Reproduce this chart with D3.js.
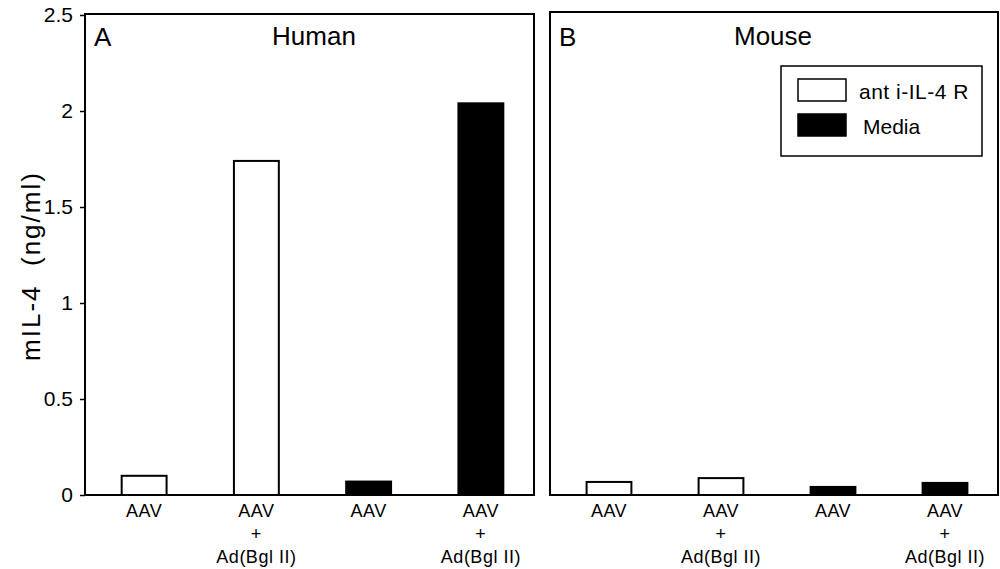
<!DOCTYPE html>
<html>
<head>
<meta charset="utf-8">
<script src="https://cdn.jsdelivr.net/npm/d3@7"></script>
<style>
  body { margin: 0; background: #fff; }
  svg { font-family: "Liberation Sans", Arial, sans-serif; }
</style>
</head>
<body>
<div id="chart"></div>
<script>
// Chart size
const width = 1000;
const height = 569;

// Data
const categories = ["AAV|anti", "AAV+Ad|anti", "AAV|media", "AAV+Ad|media"];
const catLines = [["AAV"], ["AAV", "+", "Ad(Bgl II)"], ["AAV"], ["AAV", "+", "Ad(Bgl II)"]];
const treatment = ["anti-IL-4R", "anti-IL-4R", "Media", "Media"];
const humanValues = [0.10, 1.74, 0.07, 2.04];
const mouseValues = [0.068, 0.088, 0.042, 0.063];
const yTicks = [0, 0.5, 1, 1.5, 2, 2.5];
const legendLabels = ["ant i-IL-4 R", "Media"];

const fillFor = {"anti-IL-4R": "#fff", "Media": "#000"};

// Panels
const panels = [
  {letter: "A", title: "Human", values: humanValues, x0: 85, x1: 534, top: 14, titleX: 314},
  {letter: "B", title: "Mouse", values: mouseValues, x0: 550, x1: 998, top: 12, titleX: 773}
];

const svg = d3.select("#chart")
  .append("svg")
  .attr("width", width)
  .attr("height", height);

// shared y scale
const yScale = d3.scaleLinear()
  .domain([0, 2.5])
  .range([495, 15]);

// y axis on the left panel
const yAxis = svg.append("g")
  .attr("transform", "translate(85,0)")
  .call(d3.axisLeft(yScale)
    .tickValues(yTicks)
    .tickFormat(d => d)
    .tickSize(5)
    .tickPadding(7));
yAxis.select(".domain").remove();
yAxis.selectAll(".tick line").attr("stroke", "#000").attr("stroke-width", 1.5);
yAxis.selectAll(".tick text")
  .attr("font-size", "21px")
  .attr("fill", "#000")
  .attr("font-family", "'Liberation Sans', Arial, sans-serif");

// y axis label
svg.append("text")
  .attr("transform", "translate(40,266) rotate(-90)")
  .attr("text-anchor", "middle")
  .attr("font-size", "26px")
  .attr("letter-spacing", "2px")
  .attr("fill", "#000")
  .style("white-space", "pre")
  .text("mIL-4  (ng/ml)");

panels.forEach(p => {
  const xScale = d3.scaleBand()
    .domain(categories)
    .range([p.x0 + 3, p.x1 + 3])
    .paddingInner(0.6)
    .paddingOuter(0.3);

  const g = svg.append("g");

  // frame
  g.append("rect")
    .attr("x", p.x0)
    .attr("y", p.top)
    .attr("width", p.x1 - p.x0)
    .attr("height", yScale(0) - p.top)
    .attr("fill", "none")
    .attr("stroke", "#000")
    .attr("stroke-width", 2);

  // bars
  g.selectAll(".bar")
    .data(p.values)
    .enter()
    .append("rect")
      .attr("class", "bar")
      .attr("x", (d, i) => xScale(categories[i]))
      .attr("y", d => yScale(d))
      .attr("width", xScale.bandwidth())
      .attr("height", d => yScale(0) - yScale(d))
      .attr("fill", (d, i) => fillFor[treatment[i]])
      .attr("stroke", "#000")
      .attr("stroke-width", 2);

  // category labels
  categories.forEach((c, i) => {
    const cx = xScale(c) + xScale.bandwidth() / 2;
    catLines[i].forEach((line, j) => {
      g.append("text")
        .attr("x", cx)
        .attr("y", 517 + j * 23)
        .attr("text-anchor", "middle")
        .attr("font-size", "18px")
        .attr("letter-spacing", "0.5px")
        .attr("fill", "#000")
        .text(line);
    });
  });

  // panel letter and title
  g.append("text")
    .attr("x", p.x0 + 9)
    .attr("y", 46)
    .attr("font-size", "26px")
    .attr("fill", "#000")
    .text(p.letter);
  g.append("text")
    .attr("x", p.titleX)
    .attr("y", 45)
    .attr("text-anchor", "middle")
    .attr("font-size", "26px")
    .attr("fill", "#000")
    .text(p.title);
});

// legend
const legend = svg.append("g");
legend.append("rect")
  .attr("x", 781).attr("y", 66)
  .attr("width", 201).attr("height", 90)
  .attr("fill", "#fff")
  .attr("stroke", "#000")
  .attr("stroke-width", 1.5);

const legendFills = ["#fff", "#000"];
legendLabels.forEach((lab, i) => {
  legend.append("rect")
    .attr("x", 798).attr("y", 79 + i * 35)
    .attr("width", 48).attr("height", 22)
    .attr("fill", legendFills[i])
    .attr("stroke", "#000")
    .attr("stroke-width", 1.5);
  legend.append("text")
    .attr("x", 859 + i * 4)
    .attr("y", 99 + i * 35)
    .attr("font-size", "21px")
    .attr("letter-spacing", i === 0 ? "0.5px" : "0px")
    .attr("fill", "#000")
    .text(lab);
});
</script>
</body>
</html>
